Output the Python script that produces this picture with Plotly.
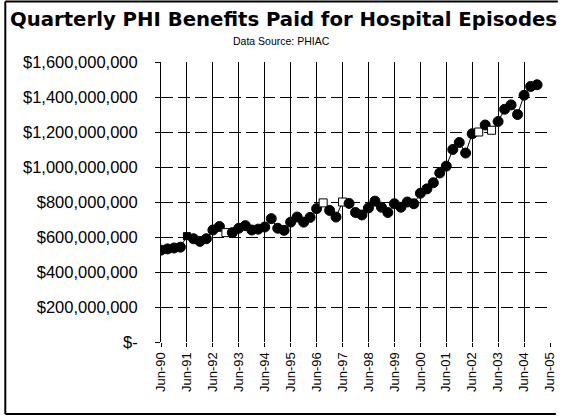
import pandas as pd
import plotly.graph_objects as go

# ---- data (millions of dollars, quarterly from Jun-1990) ----
quarters = pd.date_range("1990-06-01", periods=59, freq="3MS")
benefits_m = [
    525, 532, 537, 542,
    605, 590, 575, 590,
    640, 660, 625, 625,
    650, 665, 640, 645,
    657, 705, 650, 638,
    685, 714, 685, 712,
    762, 795, 752, 714,
    800, 792, 740, 726,
    766, 805, 770, 740,
    790, 770, 800, 790,
    850, 875, 910, 966,
    1005, 1100, 1140, 1080,
    1190, 1200, 1240, 1210,
    1260, 1330, 1355, 1300,
    1410, 1460, 1470,
]
# points drawn as squares in the source (hollow = "open")
square_points = {"1991-06": "filled", "1992-12": "open", "1996-09": "open",
                 "1997-06": "open", "2002-09": "open", "2003-03": "open"}

year_ticks = pd.date_range("1990-06-01", periods=16, freq="12MS")
year_labels = [d.strftime("Jun-%y") for d in year_ticks]
y_ticks = [0, 200e6, 400e6, 600e6, 800e6, 1000e6, 1200e6, 1400e6, 1600e6]
y_labels = ["$-", "$200,000,000", "$400,000,000", "$600,000,000", "$800,000,000",
            "$1,000,000,000", "$1,200,000,000", "$1,400,000,000", "$1,600,000,000"]

values = [v * 1e6 for v in benefits_m]
symbols, fills, sizes = [], [], []
for q in quarters:
    key = q.strftime("%Y-%m")
    kind = square_points.get(key)
    if kind == "open":
        symbols.append("square"); fills.append("white"); sizes.append(8)
    elif kind == "filled":
        symbols.append("square"); fills.append("black"); sizes.append(7)
    else:
        symbols.append("circle"); fills.append("black"); sizes.append(10)

W, H = 567, 418
L, R, T, B = 161, 10, 62, 76
pw, ph = W - L - R, H - T - B

fig = go.Figure()
fig.add_trace(go.Scatter(
    x=quarters, y=values, mode="lines+markers",
    line=dict(color="black", width=1),
    marker=dict(symbol=symbols, color=fills, size=sizes, opacity=1,
                line=dict(color="black", width=1)),
    showlegend=False,
))

def px_x(p):
    return (p - L) / pw

def px_y(p):
    return (H - B - p) / ph

fig.update_layout(
    width=W, height=H,
    margin=dict(l=L, r=R, t=T, b=B),
    paper_bgcolor="white", plot_bgcolor="white",
    title=dict(text="<b>Quarterly PHI Benefits Paid for Hospital Episodes</b>",
               font=dict(family="DejaVu Sans", size=19.7, color="black"),
               x=0.5, xref="container", xanchor="center",
               y=1 - 19 / H, yref="container", yanchor="middle"),
    font=dict(family="Liberation Sans, Arial", color="black"),
    xaxis=dict(
        range=[quarters[0], year_ticks[-1]],
        tickvals=year_ticks, ticktext=year_labels, tickangle=-90,
        tickfont=dict(size=13, family="Liberation Sans, Arial", color="black"),
        showgrid=True, gridcolor="black", gridwidth=1,
        ticks="outside", ticklen=4, tickcolor="black",
        showline=False, zeroline=False,
    ),
    yaxis=dict(
        range=[0, 1.6e9],
        tickvals=y_ticks, ticktext=y_labels,
        tickfont=dict(size=16.5, family="Liberation Sans, Arial", color="black"),
        showgrid=True, gridcolor="black", gridwidth=1, griddash="12px,5px",
        ticks="outside", ticklen=5, tickcolor="black",
        ticklabelstandoff=14,
        showline=True, linecolor="black", linewidth=1,
        zeroline=False,
    ),
    annotations=[dict(
        text="Data Source: PHIAC", showarrow=False,
        xref="paper", yref="paper", x=px_x(283.5), y=px_y(41),
        xanchor="center", yanchor="middle",
        font=dict(size=10.5, family="Liberation Sans, Arial", color="black"),
    )],
    shapes=[
        dict(type="line", xref="paper", yref="paper",
             x0=px_x(2.5), x1=px_x(2.5), y0=px_y(1.5), y1=px_y(414),
             line=dict(color="black", width=2)),
        dict(type="line", xref="paper", yref="paper",
             x0=px_x(2.5), x1=px_x(565), y0=px_y(1.5), y1=px_y(1.5),
             line=dict(color="black", width=2)),
        dict(type="line", xref="paper", yref="paper",
             x0=px_x(2.5), x1=px_x(563), y0=px_y(414), y1=px_y(414),
             line=dict(color="black", width=2)),
    ],
)

fig.write_html(
    "out.html",
    config={"displayModeBar": False},
    post_script="document.body.style.margin='0';document.body.style.overflow='hidden';",
)
